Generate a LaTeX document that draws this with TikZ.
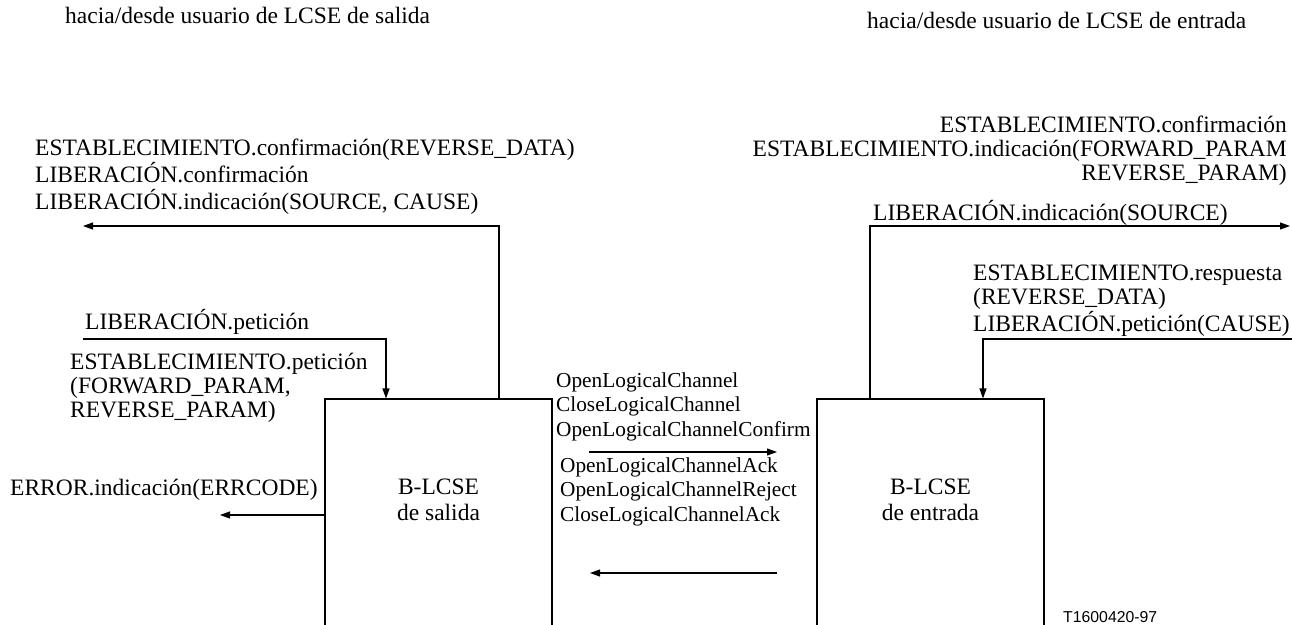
\documentclass[tikz,border=0pt]{standalone}
\usepackage{fontspec}
\setmainfont{Liberation Serif}
\newfontfamily\sansf{Liberation Sans}
\usetikzlibrary{arrows.meta}
\newcommand{\bigf}{\fontsize{23.5}{24.2}\selectfont}
\newcommand{\boxf}{\fontsize{23.5}{26}\selectfont}
\newcommand{\midf}{\fontsize{21.3}{24.5}\selectfont}
\newcommand{\lft}[1]{\begin{tabular}[t]{@{}l@{}}#1\end{tabular}}
\newcommand{\rgt}[1]{\begin{tabular}[t]{@{}r@{}}#1\end{tabular}}
\newcommand{\ctr}[1]{\begin{tabular}[t]{@{}c@{}}#1\end{tabular}}
\begin{document}
\begin{tikzpicture}[x=1pt,y=-1pt,
  lbl/.style={inner sep=0pt, anchor=base west, font=\bigf},
  rlbl/.style={inner sep=0pt, anchor=base east, font=\bigf},
  clbl/.style={inner sep=0pt, anchor=base, font=\boxf},
  mlbl/.style={inner sep=0pt, anchor=base west, font=\midf},
  blk/.style={draw, line width=1.1pt, minimum width=227pt, minimum height=300pt, inner sep=0pt},
  arr/.style={line width=1.1pt, -{Triangle[length=10pt,width=7pt]}},
]
\useasboundingbox (0,0) rectangle (1292,624);

% boxes
\node[blk] (outb) at (438.5,549) {};
\node[blk] (inb) at (930.5,549) {};
\node[clbl] (outt) at (438.5,494) {\ctr{B-LCSE\\de salida}};
\node[clbl] (int) at (930.5,494) {\ctr{B-LCSE\\de entrada}};

% headings
\node[lbl] (hl) at (65,23) {hacia/desde usuario de LCSE de salida};
\node[lbl] (hr) at (867,28) {hacia/desde usuario de LCSE de entrada};

% left side labels
\node[lbl] (ul) at (35,155) {\lft{ESTABLECIMIENTO.confirmación(REVERSE\_DATA)\\LIBERACIÓN.confirmación\\LIBERACIÓN.indicación(SOURCE, CAUSE)}};
\node[lbl] (lp) at (85,329) {LIBERACIÓN.petición};
\node[lbl] (ep) at (70,369) {\lft{ESTABLECIMIENTO.petición\\(FORWARD\_PARAM,\\REVERSE\_PARAM)}};
\node[lbl] (err) at (10,495) {ERROR.indicación(ERRCODE)};

% middle labels
\node[mlbl] (mu) at (556,387) {\lft{OpenLogicalChannel\\CloseLogicalChannel\\OpenLogicalChannelConfirm}};
\node[mlbl] (md) at (560,472) {\lft{OpenLogicalChannelAck\\OpenLogicalChannelReject\\CloseLogicalChannelAck}};

% right side labels
\node[rlbl] (ur) at (1287,132) {\rgt{ESTABLECIMIENTO.confirmación\\ESTABLECIMIENTO.indicación(FORWARD\_PARAM\\REVERSE\_PARAM)}};
\node[lbl] (li) at (873,220) {LIBERACIÓN.indicación(SOURCE)};
\node[lbl] (rp) at (973,280) {\lft{ESTABLECIMIENTO.respuesta\\(REVERSE\_DATA)\\LIBERACIÓN.petición(CAUSE)}};

\node[inner sep=0pt, anchor=base west, font=\sansf\fontsize{15.8}{18}\selectfont] (code) at (1063,622) {T1600420-97};

% connectors
\coordinate (a1) at (83,226);
\coordinate (v1) at (499,226);
\draw[arr] (v1 |- outb.north) -- (v1) -- (a1);

\coordinate (p0) at (83,339);
\coordinate (p1) at (386,339);
\draw[arr] (p0) -- (p1) -- (p1 |- outb.north);

\coordinate (e1) at (220,515);
\draw[arr] (e1 -| outb.west) -- (e1);

\coordinate (m1) at (589,452);
\coordinate (m2) at (777,452);
\draw[arr] (m1) -- (m2);
\coordinate (m3) at (777,573);
\coordinate (m4) at (590,573);
\draw[arr] (m3) -- (m4);

\coordinate (r1) at (870,226);
\coordinate (r2) at (1290,226);
\draw[arr] (r1 |- inb.north) -- (r1) -- (r2);

\coordinate (q0) at (1292,339);
\coordinate (q1) at (983,339);
\draw[arr] (q0) -- (q1) -- (q1 |- inb.north);
\end{tikzpicture}
\end{document}
